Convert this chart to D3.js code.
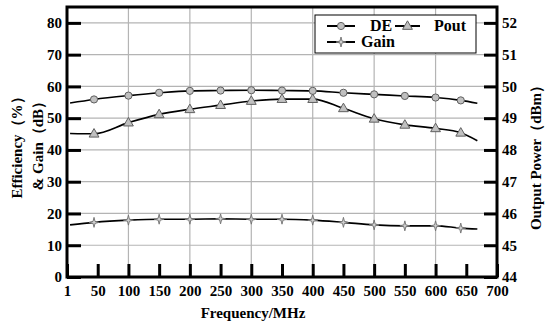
<!DOCTYPE html>
<html><head><meta charset="utf-8">
<script src="https://cdn.jsdelivr.net/npm/d3@7"></script>
<style>body{margin:0;background:#fff}svg{display:block}</style>
</head><body>
<svg id="c" width="550" height="328"></svg>
<script>
// Data
const freq = [5, 44, 100, 150, 200, 250, 300, 350, 400, 450, 500, 550, 600, 641, 668];
const deValues = [54.8, 55.9, 57.1, 58.0, 58.6, 58.7, 58.8, 58.7, 58.6, 58.0, 57.5, 57.0, 56.5, 55.6, 54.7];
const poutValues = [48.52, 48.51, 48.86, 49.12, 49.28, 49.41, 49.54, 49.6, 49.6, 49.31, 48.98, 48.79, 48.68, 48.54, 48.29];
const gainValues = [16.4, 17.2, 17.9, 18.2, 18.2, 18.3, 18.2, 18.2, 17.9, 17.2, 16.4, 16.1, 16.1, 15.4, 15.1];
const xTicks = [0, 50, 100, 150, 200, 250, 300, 350, 400, 450, 500, 550, 600, 650, 700];
const xTickLabels = ["1", "50", "100", "150", "200", "250", "300", "350", "400", "450", "500", "550", "600", "650", "700"];
const yLeftTicks = [0, 10, 20, 30, 40, 50, 60, 70, 80];
const yRightTicks = [44, 45, 46, 47, 48, 49, 50, 51, 52];
const xGrid = [100, 200, 300, 400, 500, 600];
const yGrid = [10, 20, 30, 40, 50, 60, 70, 80];
const legendItems = ["DE", "Pout", "Gain"];

const svg = d3.select("#c");
const L = 67, R = 497, T = 7, B = 277;
const FONT = "'Liberation Serif','Times New Roman',serif";
const x = d3.scaleLinear().domain([0, 700]).range([L, R]);
const yL = d3.scaleLinear().domain([0, 85]).range([B, T]);
const yR = d3.scaleLinear().domain([44, 52.5]).range([B, T]);

svg.append("rect").attr("width", 550).attr("height", 328).attr("fill", "#fff");

// grid
const grid = svg.append("g").attr("stroke", "#b4b4b4").attr("stroke-width", 1.2);
grid.selectAll(".h").data(yGrid).enter().append("line")
  .attr("x1", L).attr("x2", R).attr("y1", d => yL(d)).attr("y2", d => yL(d));
grid.selectAll(".v").data(xGrid).enter().append("line")
  .attr("y1", T).attr("y2", B).attr("x1", d => x(d)).attr("x2", d => x(d));

// axes
function styleAxis(g) {
  g.select(".domain").remove();
  g.selectAll(".tick line").attr("stroke", "#000").attr("stroke-width", 3);
  g.selectAll(".tick text").attr("font-family", FONT).attr("font-weight", "bold")
    .attr("font-size", 15).attr("fill", "#000");
}
svg.append("g").attr("transform", `translate(0,${B})`)
  .call(d3.axisBottom(x).tickValues(xTicks).tickFormat((d, i) => xTickLabels[i]).tickSizeInner(-13).tickSizeOuter(0).tickPadding(8))
  .call(styleAxis);
svg.append("g").attr("transform", `translate(${L},0)`)
  .call(d3.axisLeft(yL).tickValues(yLeftTicks).tickSizeInner(-14).tickSizeOuter(0).tickPadding(5))
  .call(styleAxis);
svg.append("g").attr("transform", `translate(${R},0)`)
  .call(d3.axisRight(yR).tickValues(yRightTicks).tickSizeInner(-13).tickSizeOuter(0).tickPadding(5))
  .call(styleAxis);

// frame
svg.append("rect").attr("x", L).attr("y", T).attr("width", R - L).attr("height", B - T)
  .attr("fill", "none").attr("stroke", "#000").attr("stroke-width", 3);

// lines
const series = [
  { name: "DE", vals: deValues, y: yL, shape: "circle" },
  { name: "Pout", vals: poutValues, y: yR, shape: "triangle" },
  { name: "Gain", vals: gainValues, y: yL, shape: "star" }
];
const starPath = "M0,-5L1,-1L5,0L1,1L0,5L-1,1L-5,0L-1,-1Z";
function marker(g, shape, cx, cy) {
  if (shape === "circle") {
    g.append("circle").attr("cx", cx).attr("cy", cy).attr("r", 3.6)
      .attr("fill", "#c0c0c0").attr("stroke", "#606060").attr("stroke-width", 1);
  } else if (shape === "triangle") {
    g.append("path").attr("d", d3.symbol().type(d3.symbolTriangle).size(42)())
      .attr("transform", `translate(${cx},${cy + 0.5})`)
      .attr("fill", "#c0c0c0").attr("stroke", "#606060").attr("stroke-width", 1);
  } else {
    g.append("path").attr("d", starPath).attr("transform", `translate(${cx},${cy})`)
      .attr("fill", "#d0d0d0").attr("stroke", "#707070").attr("stroke-width", 0.9);
  }
}
series.forEach(s => {
  const line = d3.line().x((d, i) => x(freq[i])).y(d => s.y(d)).curve(d3.curveMonotoneX);
  svg.append("path").attr("d", line(s.vals)).attr("fill", "none")
    .attr("stroke", "#000").attr("stroke-width", 1.6);
  const g = svg.append("g");
  s.vals.forEach((v, i) => {
    if (i === 0 || i === s.vals.length - 1) return;
    marker(g, s.shape, x(freq[i]), s.y(v));
  });
});

// legend
const lg = svg.append("g");
lg.append("rect").attr("x", 315).attr("y", 15).attr("width", 161).attr("height", 38)
  .attr("fill", "#fff").attr("stroke", "#000").attr("stroke-width", 1);
const legendPos = [
  { lx1: 327, lx2: 355, ly: 26, tx: 370, ty: 31 },
  { lx1: 395, lx2: 420, ly: 26, tx: 434, ty: 31 },
  { lx1: 327, lx2: 355, ly: 42, tx: 361, ty: 47 }
];
legendItems.forEach((name, i) => {
  const p = legendPos[i];
  lg.append("line").attr("x1", p.lx1).attr("x2", p.lx2).attr("y1", p.ly).attr("y2", p.ly)
    .attr("stroke", "#000").attr("stroke-width", 2);
  marker(lg, series[i].shape, (p.lx1 + p.lx2) / 2, p.ly);
  lg.append("text").attr("x", p.tx).attr("y", p.ty).text(name)
    .attr("font-family", FONT).attr("font-weight", "bold").attr("font-size", 16);
});

// titles
function title(txt, tx, ty, rot) {
  svg.append("text").attr("transform", `translate(${tx},${ty}) rotate(${rot})`)
    .attr("text-anchor", "middle").attr("font-family", FONT).attr("font-weight", "bold")
    .attr("font-size", 15).text(txt);
}
title("Frequency/MHz", 253, 318, 0);
title("Efficiency（%）", 22, 144, -90);
title("& Gain（dB）", 43, 142, -90);
title("Output Power（dBm）", 541, 154, -90);
</script>
</body></html>
